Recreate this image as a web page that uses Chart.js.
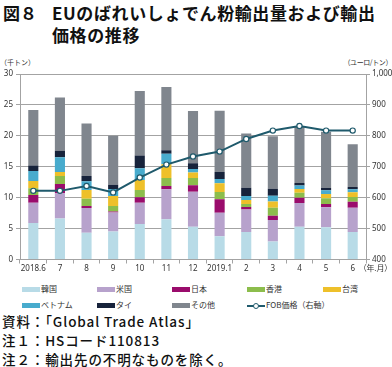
<!DOCTYPE html>
<html><head><meta charset="utf-8">
<script src="https://cdn.jsdelivr.net/npm/chart.js@4.4.1/dist/chart.umd.min.js"></script>
<style>
html,body{margin:0;padding:0;background:#fff;}
body{width:392px;height:367px;position:relative;overflow:hidden;font-family:"Noto Sans CJK JP","Noto Sans",sans-serif;color:#111;}
.abs{position:absolute;white-space:nowrap;}
#t1,#t2,#t0{font-size:17px;font-weight:bold;line-height:20px;}
#t1{letter-spacing:0.6px;}
#t2{letter-spacing:0.6px;}
.unit{font-size:7px;color:#333;}
#wrap{position:absolute;left:0;top:55px;width:392px;height:225px;}
.leg{font-size:8px;color:#333;line-height:10px;}
.sw{position:absolute;width:18px;height:5px;}
.foot{font-size:13.5px;font-weight:500;letter-spacing:0.9px;line-height:16px;}
</style></head>
<body>
<div class="abs" id="t0" style="left:3px;top:3px;">図８</div>
<div class="abs" id="t1" style="left:52px;top:3px;">EUのばれいしょでん粉輸出量および輸出</div>
<div class="abs" id="t2" style="left:52px;top:25px;">価格の推移</div>
<div class="abs unit" style="left:0px;top:57px;">（千トン）</div>
<div class="abs unit" style="right:0px;top:57px;letter-spacing:-0.4px;">（ユーロ/トン）</div>
<div id="wrap"><canvas id="c" width="392" height="225"></canvas></div>
<div class="abs leg" style="right:0px;top:263px;letter-spacing:-0.2px;">（年.月）</div>
<div id="legend"></div>
<div class="abs foot" style="left:2px;top:313px;">資料：「Global Trade Atlas」</div>
<div class="abs foot" style="left:2px;top:332px;">注１：HSコード110813</div>
<div class="abs foot" style="left:2px;top:351px;">注２：輸出先の不明なものを除く。</div>
<script>
const categories = ["2018.6","7","8","9","10","11","12","2019.1","2","3","4","5","6"];
const korea   = [5.89,6.65,4.32,4.54,5.73,6.49,5.30,3.78,4.43,2.92,5.30,5.20,4.43];
const usa     = [3.30,4.05,4.00,3.08,3.46,4.86,5.67,3.79,3.67,3.46,3.84,3.23,3.95];
const japan   = [1.24,1.50,0.33,0.15,0.86,0.55,1.03,2.16,0.39,0.70,0.86,0.54,0.97];
const hongkong= [1.08,1.30,1.19,0.88,1.19,1.29,1.19,1.19,0.48,1.30,0.80,0.92,0.75];
const taiwan  = [1.19,0.66,1.40,1.62,1.62,2.21,0.86,1.40,0.65,1.02,0.60,0.71,0.76];
const vietnam = [1.62,2.38,1.41,1.13,1.90,1.70,0.60,0.71,0.65,0.90,0.55,0.59,0.49];
const thailand= [0.87,1.03,0.85,0.70,2.05,0.58,0.92,1.13,1.35,1.16,0.43,0.38,0.38];
const others  = [8.97,8.63,8.50,7.90,10.43,10.22,8.43,9.89,8.76,8.49,9.08,9.08,6.92];
const fobPrice= [622,622,638,617,665,707,733,749,790,817,832,817,817];
const leftTicks = [0,5,10,15,20,25,30];
const rightTicks = [400,500,600,700,800,900,1000];

const barSeries = [
  {label:"韓国", data:korea, color:"#b8dbe7"},
  {label:"米国", data:usa, color:"#b7a2cc"},
  {label:"日本", data:japan, color:"#9a0c6c"},
  {label:"香港", data:hongkong, color:"#8cbd4c"},
  {label:"台湾", data:taiwan, color:"#eec02a"},
  {label:"ベトナム", data:vietnam, color:"#48abcd"},
  {label:"タイ", data:thailand, color:"#17233b"},
  {label:"その他", data:others, color:"#80868e"}
];
const lineColor = "#1f5a6c";
const gridColor = "#a3a3a3";

const datasets = barSeries.map((s,i)=>({
  type:"bar", label:s.label, data:s.data, backgroundColor:s.color,
  stack:"s", yAxisID:"y", order:2, categoryPercentage:1, barPercentage:0.38, borderWidth:0
}));
datasets.push({
  type:"line", label:"FOB価格（右軸）", data:fobPrice, yAxisID:"y1", order:0,
  borderColor:lineColor, borderWidth:2, pointRadius:2.6, pointBackgroundColor:"#fff",
  pointBorderColor:lineColor, pointBorderWidth:1.2, tension:0
});

new Chart(document.getElementById("c"), {
  data:{labels:categories, datasets},
  options:{
    responsive:false, animation:false,
    layout:{padding:{top:19,left:0,right:0,bottom:0}},
    plugins:{legend:{display:false}, tooltip:{enabled:false}},
    scales:{
      x:{stacked:true, offset:true,
        grid:{display:true, drawOnChartArea:false, offset:true, tickLength:4, color:gridColor},
        border:{display:true, color:gridColor},
        ticks:{font:{size:8, family:"Noto Sans, sans-serif"}, color:"#333", padding:0, maxRotation:0, autoSkip:false},
        afterFit:(s)=>{s.height=20.5;}
      },
      y:{stacked:true, position:"left", min:0, max:30,
        afterBuildTicks:(s)=>{s.ticks=leftTicks.map(v=>({value:v}));},
        grid:{color:gridColor, tickLength:4, lineWidth:1},
        border:{display:true, color:gridColor},
        ticks:{font:{size:8, family:"Noto Sans, sans-serif"}, color:"#333", padding:3},
        afterFit:(s)=>{s.width=20;}
      },
      y1:{position:"right", min:400, max:1000,
        afterBuildTicks:(s)=>{s.ticks=rightTicks.map(v=>({value:v}));},
        grid:{drawOnChartArea:false, color:gridColor, tickLength:4},
        border:{display:true, color:gridColor},
        ticks:{font:{size:8, family:"Noto Sans, sans-serif"}, color:"#333", padding:2,
          callback:(v)=>v.toLocaleString("en-US")},
        afterFit:(s)=>{s.width=26;}
      }
    }
  }
});

// HTML legend built from series definitions
const legendPos = [[22,284],[97,284],[172,284],[247,284],[323,284],[22,300],[97,300],[172,300]];
const lg = document.getElementById("legend");
barSeries.forEach((s,i)=>{
  const [x,y]=legendPos[i];
  const sw=document.createElement("div"); sw.className="sw";
  sw.style.left=x+"px"; sw.style.top=(y+3)+"px"; sw.style.background=s.color; lg.appendChild(sw);
  const t=document.createElement("div"); t.className="abs leg"; t.textContent=s.label;
  t.style.left=(x+19)+"px"; t.style.top=y+"px"; lg.appendChild(t);
});
(function(){
  const x=247,y=300;
  const ln=document.createElement("div"); ln.className="abs";
  ln.style.cssText=`left:${x}px;top:${y+5}px;width:18px;height:1.5px;background:${lineColor};`;
  lg.appendChild(ln);
  const pt=document.createElement("div"); pt.className="abs";
  pt.style.cssText=`left:${x+6}px;top:${y+3}px;width:4px;height:4px;border:1px solid ${lineColor};border-radius:50%;background:#fff;`;
  lg.appendChild(pt);
  const t=document.createElement("div"); t.className="abs leg"; t.textContent="FOB価格（右軸）";
  t.style.left=(x+19)+"px"; t.style.top=y+"px"; lg.appendChild(t);
})();
</script>
</body></html>
